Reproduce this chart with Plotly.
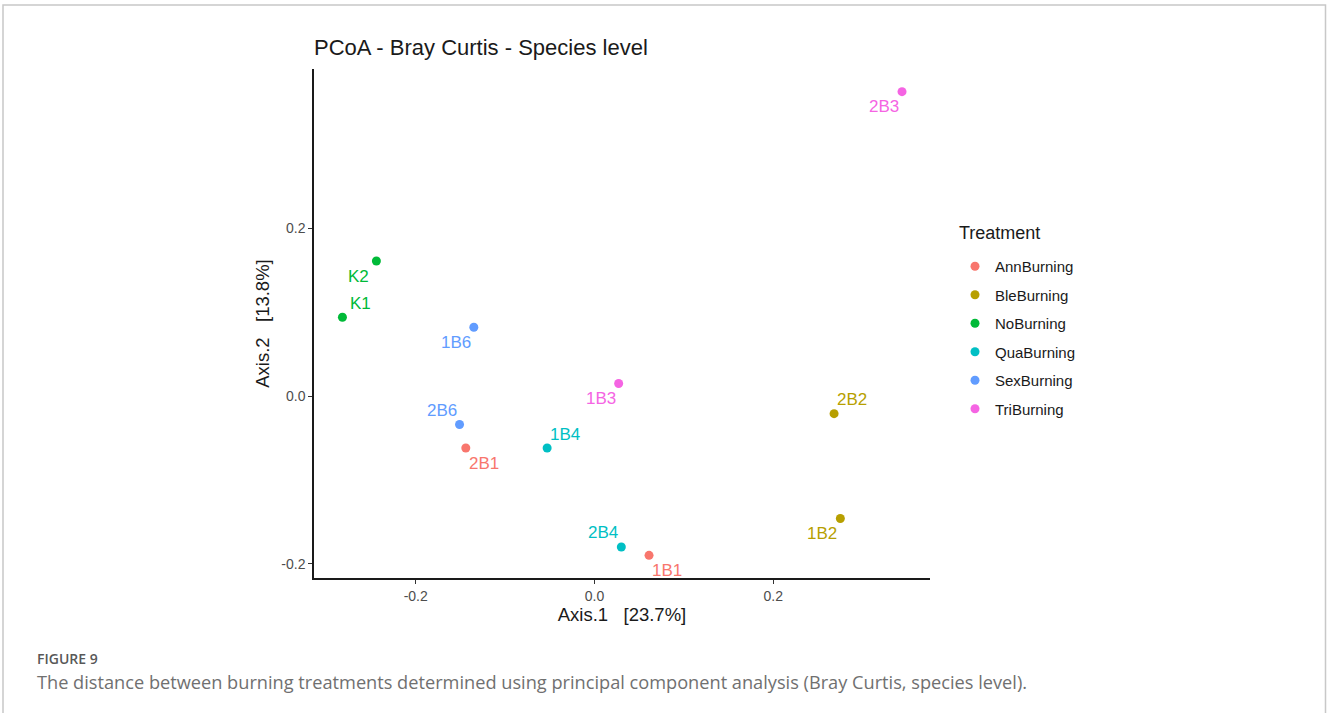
import plotly.graph_objects as go

# ---- data ----
samples = ["K1", "K2", "1B1", "2B1", "1B2", "2B2", "1B3", "2B3", "1B4", "2B4", "1B6", "2B6"]
treatment = ["NoBurning", "NoBurning", "AnnBurning", "AnnBurning", "BleBurning", "BleBurning",
             "TriBurning", "TriBurning", "QuaBurning", "QuaBurning", "SexBurning", "SexBurning"]
axis1 = [-0.282, -0.244, 0.061, -0.144, 0.275, 0.268, 0.027, 0.344, -0.053, 0.030, -0.135, -0.151]
axis2 = [0.094, 0.161, -0.190, -0.062, -0.146, -0.021, 0.015, 0.363, -0.062, -0.180, 0.082, -0.034]
label_pos = ["top right", "bottom left", "bottom right", "bottom right", "bottom left", "top right",
             "bottom left", "bottom left", "top right", "top left", "bottom left", "top left"]

groups = ["AnnBurning", "BleBurning", "NoBurning", "QuaBurning", "SexBurning", "TriBurning"]
group_colors = ["#F8766D", "#B79F00", "#00BA38", "#00BFC4", "#619CFF", "#F564E3"]

tick_vals = [-0.2, 0.0, 0.2]
tick_text = ["-0.2", "0.0", "0.2"]

title_text = "PCoA - Bray Curtis - Species level"
x_title = "Axis.1\u00a0\u00a0\u00a0[23.7%]"
y_title = "Axis.2\u00a0\u00a0\u00a0[13.8%]"
legend_title = "Treatment"
fig_label = "FIGURE 9"
caption = ("The distance between burning treatments determined using principal component "
           "analysis (Bray Curtis, species level).")

# ---- layout geometry (pixels) ----
W, H = 1327, 713
L, R, T, B = 314, 930, 69, 578
pw, ph = R - L, B - T


def px_x(p):
    return (p - L) / pw


def px_y(p):
    return (B - p) / ph


color_of = dict(zip(groups, group_colors))
fig = go.Figure()

for g, c in zip(groups, group_colors):
    xs = [x for x, t in zip(axis1, treatment) if t == g]
    ys = [y for y, t in zip(axis2, treatment) if t == g]
    fig.add_trace(go.Scatter(
        x=xs, y=ys, mode="markers", name=g, legendgroup=g,
        marker=dict(color=c, size=9, line=dict(width=0)),
        hoverinfo="skip",
    ))

annotations = []
for s, t, x, y, pos in zip(samples, treatment, axis1, axis2, label_pos):
    dx = 18 if "right" in pos else -18
    dy = 14 if "top" in pos else -15
    annotations.append(dict(
        x=x, y=y, xref="x", yref="y", text=s, showarrow=False,
        xshift=dx, yshift=dy, xanchor="center", yanchor="middle",
        font=dict(family="Liberation Sans, Arial", size=17, color=color_of[t]),
    ))

annotations.append(dict(
    x=px_x(957), y=px_y(233), xref="paper", yref="paper", text=legend_title,
    showarrow=False, xanchor="left", yanchor="middle",
    font=dict(family="Liberation Sans, Arial", size=18, color="#1a1a1a"),
))
annotations.append(dict(
    x=px_x(35), y=px_y(658), xref="paper", yref="paper", text=fig_label,
    showarrow=False, xanchor="left", yanchor="middle",
    font=dict(family="Open Sans", size=14, color="#585858", weight=600),
))
annotations.append(dict(
    x=px_x(35), y=px_y(682), xref="paper", yref="paper", text=caption,
    showarrow=False, xanchor="left", yanchor="middle",
    font=dict(family="Open Sans", size=18.2, color="#707070"),
))

axis_common = dict(
    showgrid=False, zeroline=False, showline=True, linecolor="#1a1a1a", linewidth=1.5,
    ticks="outside", ticklen=4, tickwidth=1.2, tickcolor="#333333",
    tickvals=tick_vals, ticktext=tick_text,
    tickfont=dict(family="Liberation Sans, Arial", size=14, color="#4d4d4d"),
)

fig.update_layout(
    width=W, height=H,
    margin=dict(l=L, r=W - R, t=T, b=H - B, autoexpand=False),
    paper_bgcolor="white", plot_bgcolor="white",
    font=dict(family="Liberation Sans, Arial", color="#1a1a1a"),
    title=dict(text=title_text, x=0, xref="paper", xanchor="left",
               y=1 - 47 / H, yref="container", yanchor="middle",
               font=dict(family="Liberation Sans, Arial", size=22, color="#1a1a1a")),
    xaxis=dict(range=[-0.3138, 0.3753], automargin=False,
               title=dict(text=x_title, standoff=5,
                          font=dict(family="Liberation Sans, Arial", size=18.5, color="#1a1a1a")),
               **axis_common),
    yaxis=dict(range=[-0.217, 0.390], automargin=False,
               title=dict(text=y_title, standoff=7,
                          font=dict(family="Liberation Sans, Arial", size=18.5, color="#1a1a1a")),
               **axis_common),
    legend=dict(
        x=px_x(955), y=px_y(250), xanchor="left", yanchor="top",
        font=dict(family="Liberation Sans, Arial", size=15, color="#1a1a1a"),
        tracegroupgap=6, bgcolor="rgba(0,0,0,0)",
    ),
    annotations=annotations,
    shapes=[dict(
        type="path", xref="paper", yref="paper",
        path=f"M {px_x(3)} {px_y(730)} L {px_x(3)} {px_y(5)} L {px_x(1325.5)} {px_y(5)} L {px_x(1325.5)} {px_y(730)}",
        line=dict(color="#c8c8c8", width=1.5),
    )],
)

fig.write_html("out.html")
